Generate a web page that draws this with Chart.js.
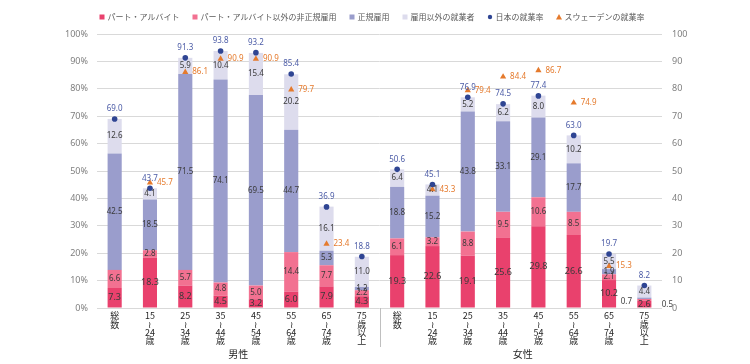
<!DOCTYPE html>
<html>
<head>
<meta charset="utf-8">
<script src="https://cdn.jsdelivr.net/npm/chart.js@4/dist/chart.umd.min.js"></script>
<style>
  html, body { margin: 0; padding: 0; background: #fff; }
  #wrap { width: 750px; height: 364px; }
</style>
</head>
<body>
<div id="wrap"><canvas id="c"></canvas></div>
<script>
// categories (vertical labels, one line per character group)
const categories = [
  ['総', '数'], ['15', '≀', '24', '歳'], ['25', '≀', '34', '歳'], ['35', '≀', '44', '歳'],
  ['45', '≀', '54', '歳'], ['55', '≀', '64', '歳'], ['65', '≀', '74', '歳'], ['75', '歳', '以', '上'],
  ['総', '数'], ['15', '≀', '24', '歳'], ['25', '≀', '34', '歳'], ['35', '≀', '44', '歳'],
  ['45', '≀', '54', '歳'], ['55', '≀', '64', '歳'], ['65', '≀', '74', '歳'], ['75', '歳', '以', '上']
];
const groups = ['男性', '女性'];

// series values (%), male 8 then female 8
const partTime   = [7.3, 18.3, 8.2, 4.5, 3.2, 6.0, 7.9, 4.3,   19.3, 22.6, 19.1, 25.6, 29.8, 26.6, 10.2, 2.6];
const otherNonReg = [6.6, 2.8, 5.7, 4.8, 5.0, 14.4, 7.7, 2.2,   6.1, 3.2, 8.8, 9.5, 10.6, 8.5, 2.1, 0.7];
const regular    = [42.5, 18.5, 71.5, 74.1, 69.5, 44.7, 5.3, 1.2,   18.8, 15.2, 43.8, 33.1, 29.1, 17.7, 1.9, 0.5];
const nonEmploy  = [12.6, 4.1, 5.9, 10.4, 15.4, 20.2, 16.1, 11.0,   6.4, 4.1, 5.2, 6.2, 8.0, 10.2, 5.5, 4.4];
const japanRate  = [69.0, 43.7, 91.3, 93.8, 93.2, 85.4, 36.9, 18.8,   50.6, 45.1, 76.9, 74.5, 77.4, 63.0, 19.7, 8.2];
const swedenRate = [null, 45.7, 86.1, 90.9, 90.9, 79.7, 23.4, null,   null, 43.3, 79.4, 84.4, 86.7, 74.9, 15.3, null];

const FONT = "'Noto Sans CJK JP', 'Noto Sans', sans-serif";
const NUMFONT = "'Noto Sans', 'Liberation Sans', sans-serif";

const colors = {
  part: '#e9416d',
  other: '#f27191',
  reg: '#9a9dcc',
  nonemp: '#dddced',
  japan: '#2f4593',
  sweden: '#e57a2c'
};

const legendItems = [
  { type: 'rect', color: colors.part, text: 'パート・アルバイト' },
  { type: 'rect', color: colors.other, text: 'パート・アルバイト以外の非正規雇用' },
  { type: 'rect', color: colors.reg, text: '正規雇用' },
  { type: 'rect', color: colors.nonemp, text: '雇用以外の就業者' },
  { type: 'circle', color: colors.japan, text: '日本の就業率' },
  { type: 'triangle', color: colors.sweden, text: 'スウェーデンの就業率' }
];

// custom legend across the top
const topLegend = {
  id: 'topLegend',
  afterDraw(chart) {
    const ctx = chart.ctx;
    ctx.save();
    ctx.font = '8px ' + FONT;
    ctx.textBaseline = 'middle';
    ctx.textAlign = 'left';
    const gap = 13, mark = 5, sp = 3;
    let total = 0;
    legendItems.forEach((it, i) => {
      total += mark + sp + ctx.measureText(it.text).width + (i ? gap : 0);
    });
    let x = 372 - total / 2;
    const y = 17;
    legendItems.forEach(it => {
      ctx.fillStyle = it.color;
      if (it.type === 'rect') {
        ctx.fillRect(x, y - 2.5, mark, mark);
      } else if (it.type === 'circle') {
        ctx.beginPath(); ctx.arc(x + 2.5, y, 2.2, 0, Math.PI * 2); ctx.fill();
      } else {
        ctx.beginPath(); ctx.moveTo(x + 2.5, y - 3); ctx.lineTo(x + 5.5, y + 2.5); ctx.lineTo(x - 0.5, y + 2.5); ctx.closePath(); ctx.fill();
      }
      x += mark + sp;
      ctx.fillStyle = '#595959';
      ctx.fillText(it.text, x, y);
      x += ctx.measureText(it.text).width + gap;
    });
    ctx.restore();
  }
};

// value labels on segments and points
const valueLabels = {
  id: 'valueLabels',
  afterDatasetsDraw(chart) {
    const ctx = chart.ctx;
    ctx.save();
    ctx.textAlign = 'center';
    ctx.textBaseline = 'middle';
    chart.data.datasets.forEach((ds, di) => {
      const meta = chart.getDatasetMeta(di);
      meta.data.forEach((el, i) => {
        const v = ds.data[i];
        if (v === null || v === undefined) return;
        const txt = v.toFixed(1);
        if (ds.type === 'line') {
          if (ds.label === '日本の就業率') {
            ctx.font = '8px ' + NUMFONT;
            ctx.fillStyle = '#4b5ba6';
            ctx.textAlign = 'center';
            ctx.fillText(txt, el.x, el.y - 10);
          } else {
            ctx.font = '8px ' + NUMFONT;
            ctx.fillStyle = colors.sweden;
            ctx.textAlign = 'left';
            ctx.fillText(txt, el.x + 7, el.y);
          }
          return;
        }
        const yMid = (el.y + el.base) / 2;
        ctx.textAlign = 'center';
        ctx.fillStyle = '#3a3a3a';
        ctx.font = (di === 2 ? '9px ' : '8px ') + NUMFONT;
        if (v < 1) {
          ctx.fillStyle = '#404040';
          const dx = di === 3 ? -18 : 23;
          ctx.fillText(txt, el.x + dx, yMid + (di === 3 ? 2 : 6));
        } else {
          ctx.fillText(txt, el.x, yMid);
        }
      });
    });
    ctx.restore();
  }
};

// group names under the axis and the male/female separator
const groupLabels = {
  id: 'groupLabels',
  afterDraw(chart) {
    const ctx = chart.ctx;
    const xs = chart.scales.x;
    const bottom = chart.chartArea.bottom;
    ctx.save();
    const sepX = (xs.getPixelForValue(7) + xs.getPixelForValue(8)) / 2;
    ctx.strokeStyle = '#bfbfbf';
    ctx.lineWidth = 1;
    ctx.beginPath();
    ctx.moveTo(Math.round(sepX) + 0.5, bottom);
    ctx.lineTo(Math.round(sepX) + 0.5, bottom + 39);
    ctx.stroke();
    ctx.font = '10px ' + FONT;
    ctx.fillStyle = '#262626';
    ctx.textAlign = 'center';
    ctx.textBaseline = 'middle';
    ctx.fillText(groups[0], (xs.getPixelForValue(0) + xs.getPixelForValue(7)) / 2, bottom + 46);
    ctx.fillText(groups[1], (xs.getPixelForValue(8) + xs.getPixelForValue(15)) / 2 + 2, bottom + 46);
    ctx.restore();
  }
};

const barCommon = { type: 'bar', yAxisID: 'y', stack: 'emp', order: 1, barPercentage: 0.5, categoryPercentage: 0.8, borderWidth: 0 };

new Chart(document.getElementById('c'), {
  data: {
    labels: categories,
    datasets: [
      { type: 'line', label: '日本の就業率', data: japanRate, yAxisID: 'y2', stack: 'jp', order: 0,
        showLine: false, pointStyle: 'circle', pointRadius: 2.8, backgroundColor: colors.japan, borderWidth: 0 },
      { type: 'line', label: 'スウェーデンの就業率', data: swedenRate, yAxisID: 'y2', stack: 'se', order: 0,
        showLine: false, pointStyle: 'triangle', pointRadius: 3.6, backgroundColor: colors.sweden, borderWidth: 0 },
      Object.assign({ label: 'パート・アルバイト', data: partTime, backgroundColor: colors.part }, barCommon),
      Object.assign({ label: 'パート・アルバイト以外の非正規雇用', data: otherNonReg, backgroundColor: colors.other }, barCommon),
      Object.assign({ label: '正規雇用', data: regular, backgroundColor: colors.reg }, barCommon),
      Object.assign({ label: '雇用以外の就業者', data: nonEmploy, backgroundColor: colors.nonemp }, barCommon)
    ]
  },
  options: {
    responsive: true,
    maintainAspectRatio: false,
    animation: false,
    layout: { padding: { top: 34, left: 0, right: 0, bottom: 0 } },
    plugins: { legend: { display: false }, tooltip: { enabled: false } },
    scales: {
      x: {
        stacked: true,
        grid: { display: false },
        border: { display: false },
        ticks: {
          autoSkip: false, maxRotation: 0, minRotation: 0, padding: -4,
          color: '#262626', font: { size: 9, family: FONT, lineHeight: 0.9 }
        },
        afterFit(scale) { scale.height = 56; }
      },
      y: {
        stacked: true, min: 0, max: 100,
        grid: { color: '#d9d9d9', drawTicks: false },
        border: { display: false },
        ticks: { stepSize: 10, padding: 9, color: '#7f7f7f', font: { size: 9, family: NUMFONT }, callback: v => v + '%' },
        afterFit(scale) { scale.width = 97; }
      },
      y2: {
        position: 'right', min: 0, max: 100,
        grid: { display: false, drawTicks: false },
        border: { display: false },
        ticks: { stepSize: 10, padding: 10, color: '#7f7f7f', font: { size: 9, family: NUMFONT } },
        afterFit(scale) { scale.width = 88; }
      }
    }
  },
  plugins: [topLegend, valueLabels, groupLabels]
});
</script>
</body>
</html>
